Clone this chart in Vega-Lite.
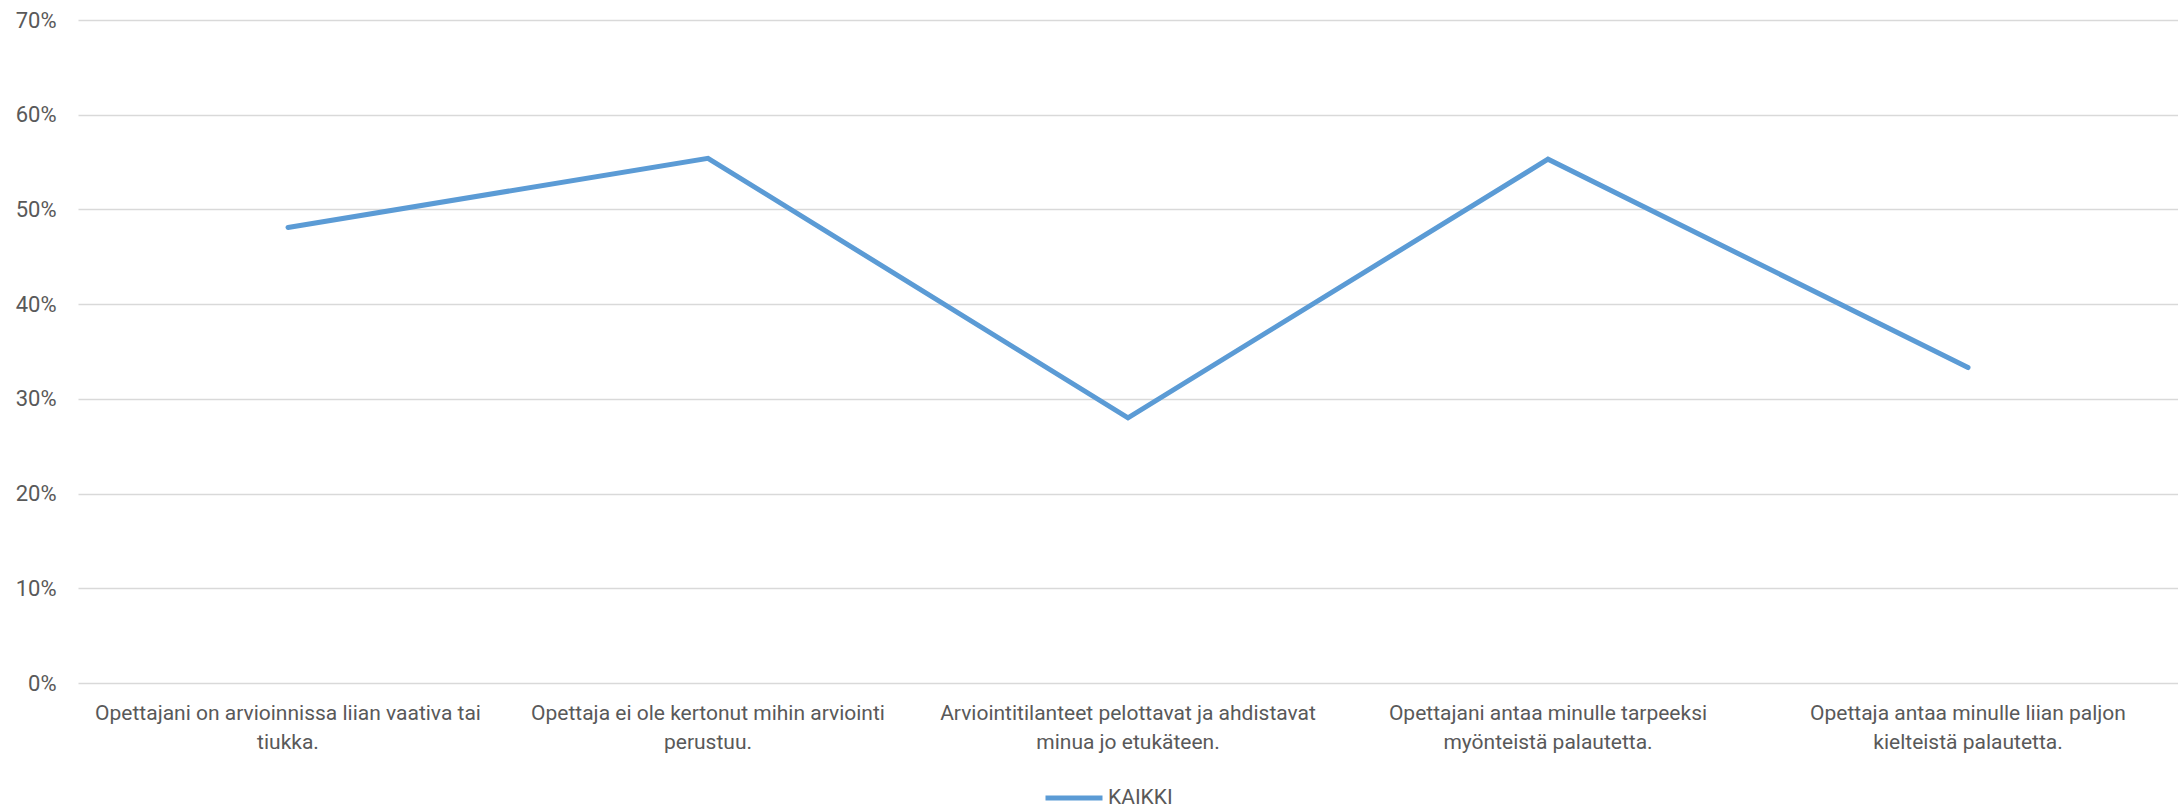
{
  "$schema": "https://vega.github.io/schema/vega-lite/v6.json",
  "width": 2100,
  "height": 663,
  "autosize": {"type": "none"},
  "padding": {"left": 78, "top": 20, "right": 0, "bottom": 124},
  "background": "white",
  "config": {
    "view": {"stroke": null},
    "font": "Roboto"
  },
  "data": {
    "values": [
      {"kysymys": "Opettajani on arvioinnissa liian vaativa tai\ntiukka.", "order": 1, "sarja": "KAIKKI", "osuus": 0.481},
      {"kysymys": "Opettaja ei ole kertonut mihin arviointi\nperustuu.", "order": 2, "sarja": "KAIKKI", "osuus": 0.554},
      {"kysymys": "Arviointitilanteet pelottavat ja ahdistavat\nminua jo etukäteen.", "order": 3, "sarja": "KAIKKI", "osuus": 0.280},
      {"kysymys": "Opettajani antaa minulle tarpeeksi\nmyönteistä palautetta.", "order": 4, "sarja": "KAIKKI", "osuus": 0.553},
      {"kysymys": "Opettaja antaa minulle liian paljon\nkielteistä palautetta.", "order": 5, "sarja": "KAIKKI", "osuus": 0.333}
    ]
  },
  "mark": {"type": "line", "strokeWidth": 5, "strokeCap": "round", "strokeJoin": "miter"},
  "encoding": {
    "x": {
      "field": "kysymys",
      "type": "nominal",
      "sort": {"field": "order"},
      "scale": {"type": "band", "paddingInner": 0, "paddingOuter": 0},
      "axis": {
        "title": null,
        "labelAngle": 0,
        "domain": false,
        "ticks": false,
        "grid": false,
        "labelExpr": "split(datum.label, '\\n')",
        "labelFontSize": 21,
        "labelColor": "#595959",
        "labelPadding": 19,
        "labelLineHeight": 29,
        "labelLimit": 0,
        "labelBaseline": "top"
      }
    },
    "y": {
      "field": "osuus",
      "type": "quantitative",
      "scale": {"domain": [0, 0.7], "nice": false},
      "axis": {
        "title": null,
        "format": ".0%",
        "values": [0, 0.1, 0.2, 0.3, 0.4, 0.5, 0.6, 0.7],
        "domain": false,
        "ticks": false,
        "grid": true,
        "gridColor": "#D9D9D9",
        "gridWidth": 1.6,
        "labelFontSize": 22,
        "labelColor": "#595959",
        "labelPadding": 22
      }
    },
    "color": {
      "field": "sarja",
      "type": "nominal",
      "scale": {"range": ["#5B9BD5"]},
      "legend": {
        "title": null,
        "orient": "none",
        "legendX": 965,
        "legendY": 747,
        "padding": 0,
        "symbolType": "stroke",
        "symbolSize": 3249,
        "symbolStrokeWidth": 5,
        "symbolStrokeColor": "#5B9BD5",
        "labelFontSize": 21,
        "labelColor": "#595959",
        "labelOffset": 3
      }
    }
  }
}
